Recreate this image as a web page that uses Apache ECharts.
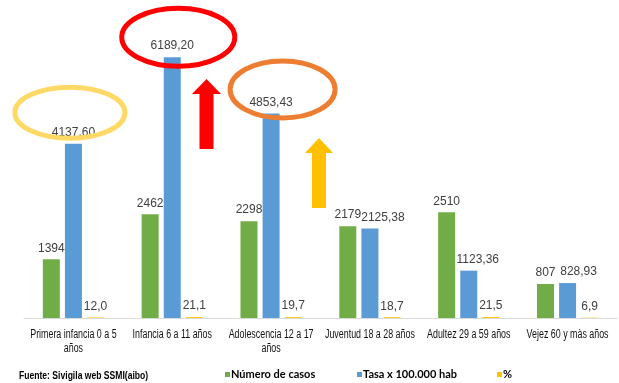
<!DOCTYPE html>
<html>
<head>
<meta charset="utf-8">
<script src="https://cdn.jsdelivr.net/npm/echarts@6/dist/echarts.min.js"></script>
<style>
  html, body { margin: 0; padding: 0; background: #fff; }
  #chart { width: 619px; height: 383px; }
</style>
</head>
<body>
<div id="chart"></div>
<script>
// Age groups along the x axis
const categories = [
  'Primera infancia 0 a 5\naños',
  'Infancia 6 a 11 años',
  'Adolescencia 12 a 17\naños',
  'Juventud 18 a 28 años',
  'Adultez 29 a 59 años',
  'Vejez 60 y màs años'
];

// Series values
const casos = [1394, 2462, 2298, 2179, 2510, 807];
const tasa = [4137.60, 6189.20, 4853.43, 2125.38, 1123.36, 828.93];
const porcentaje = [12.0, 21.1, 19.7, 18.7, 21.5, 6.9];

const seriesNames = ['Número de casos', 'Tasa x 100.000 hab', '%'];
const seriesColors = ['#70AD47', '#5B9BD5', '#FFC000'];
const seriesDecimals = [0, 2, 1];

// Sideways nudges for rate labels that would collide with their neighbours
const labelNudge = [{}, { 3: 13, 4: 9, 5: 11 }, {}];

const sans = '"Liberation Sans", Arial, sans-serif';
const condensed = 'Lato, "Liberation Sans", sans-serif';

function fmt(v, d) {
  return v.toFixed(d).replace('.', ',');
}

function barSeries(i, values) {
  return {
    name: seriesNames[i],
    type: 'bar',
    data: values.map((v, k) => {
      const dx = labelNudge[i][k];
      return dx ? { value: v, label: { offset: [dx, 0] } } : v;
    }),
    barWidth: 17,
    barGap: '30%',
    itemStyle: { color: seriesColors[i] },
    label: {
      show: true,
      position: 'top',
      distance: 5,
      color: '#404040',
      fontSize: 12,
      fontFamily: sans,
      formatter: p => fmt(p.value, seriesDecimals[i])
    }
  };
}

function legendAt(name, left) {
  return {
    data: [name],
    left: left,
    top: 369,
    itemWidth: 5,
    itemHeight: 5,
    icon: 'rect',
    itemGap: 2,
    padding: 0,
    selectedMode: false,
    textStyle: {
      color: '#000',
      fontSize: 11,
      fontWeight: 'bold',
      fontFamily: condensed,
      padding: [0, 0, 0, -4]
    }
  };
}

const chart = echarts.init(document.getElementById('chart'), null, { renderer: 'canvas' });

chart.setOption({
  animation: false,
  backgroundColor: '#ffffff',
  grid: { left: 24, right: 2, top: 23, bottom: 65 },
  legend: [
    legendAt(seriesNames[0], 225),
    legendAt(seriesNames[1], 357),
    legendAt(seriesNames[2], 497)
  ],
  xAxis: {
    type: 'category',
    data: categories,
    axisLine: { lineStyle: { color: '#D9D9D9', width: 1 } },
    axisTick: { show: false },
    axisLabel: { show: false }
  },
  yAxis: {
    type: 'value',
    min: 0,
    max: 7000,
    show: false,
    splitLine: { show: false }
  },
  series: [
    barSeries(0, casos),
    barSeries(1, tasa),
    barSeries(2, porcentaje)
  ]
});

const graphics = [];

// Narrow category captions under each group, placed from the category axis
const baseY = chart.convertToPixel({ yAxisIndex: 0 }, 0);
categories.forEach((name, i) => {
  const cx = chart.convertToPixel({ xAxisIndex: 0 }, i);
  graphics.push({
    type: 'text',
    x: cx,
    y: baseY + 10,
    scaleX: 0.74,
    silent: true,
    style: {
      text: name,
      x: 0,
      y: 0,
      align: 'center',
      textAlign: 'center',
      verticalAlign: 'top',
      textVerticalAlign: 'top',
      fill: '#111',
      fontSize: 12,
      lineHeight: 14,
      fontFamily: sans
    }
  });
});

// Highlight rings around the three largest rates, anchored to their bar tops
const rings = [
  { idx: 0, dx: -3.5, dy: -31, rx: 55, ry: 25.5, color: '#FFD966' },
  { idx: 1, dx: 6, dy: -20, rx: 56.5, ry: 29, color: '#FF0000' },
  { idx: 2, dx: 11.5, dy: -24, rx: 52.5, ry: 28.5, color: '#ED7D31' }
];

rings.forEach(r => {
  const pt = chart.convertToPixel({ seriesIndex: 1 }, [r.idx, tasa[r.idx]]);
  graphics.push({
    type: 'ellipse',
    z: 100,
    shape: { cx: pt[0] + r.dx, cy: pt[1] + r.dy, rx: r.rx, ry: r.ry },
    style: { fill: 'none', stroke: r.color, lineWidth: 5 }
  });
});

// Upward arrows
function arrow(tipX, tipY, headW, headH, shaftW, bottom, color) {
  const hw = headW / 2, sw = shaftW / 2;
  return {
    type: 'polygon',
    z: 100,
    shape: {
      points: [
        [tipX, tipY],
        [tipX + hw, tipY + headH],
        [tipX + sw, tipY + headH],
        [tipX + sw, bottom],
        [tipX - sw, bottom],
        [tipX - sw, tipY + headH],
        [tipX - hw, tipY + headH]
      ]
    },
    style: { fill: color }
  };
}

graphics.push(arrow(206.5, 79, 29, 15, 14, 149, '#FF0000'));
graphics.push(arrow(319, 138, 28, 15, 14, 208, '#FFC000'));

// Source note
graphics.push({
  type: 'text',
  x: 19,
  y: 370,
  scaleX: 0.78,
  silent: true,
  style: {
    text: 'Fuente: Sivigila web SSMI(aibo)',
    x: 0,
    y: 0,
    fill: '#000',
    fontSize: 11,
    fontWeight: 'bold',
    fontFamily: sans
  }
});

chart.setOption({ graphic: graphics });
</script>
</body>
</html>
